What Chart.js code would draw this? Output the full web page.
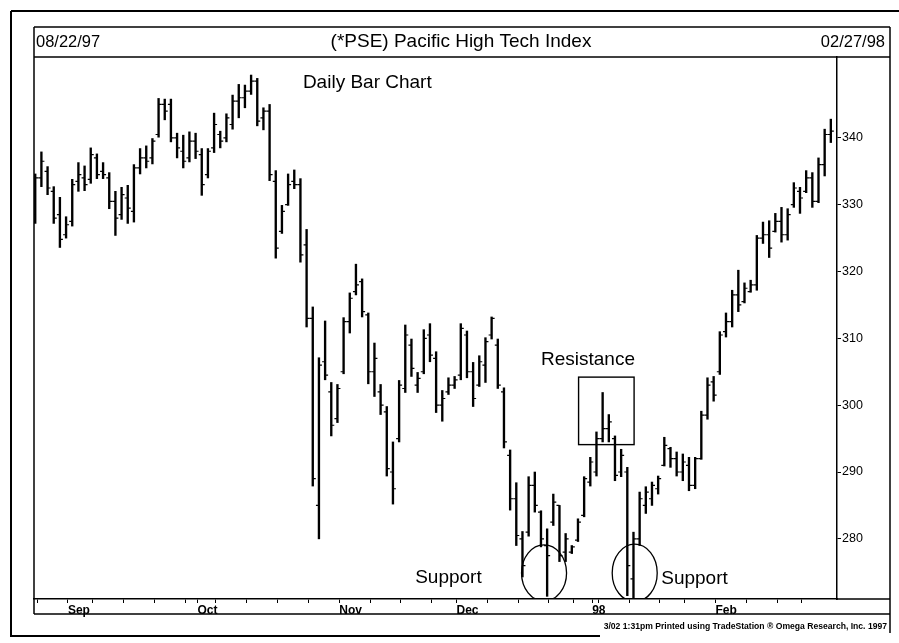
<!DOCTYPE html>
<html><head><meta charset="utf-8">
<script src="https://cdn.jsdelivr.net/npm/chart.js@4.4.1/dist/chart.umd.min.js"></script>
<style>html,body{margin:0;padding:0;background:#fff;overflow:hidden}canvas{display:block}</style>
</head><body>
<canvas id="c" width="899" height="643"></canvas>
<script>
// Daily OHLC, 08/22/97 .. 02/27/98 (130 sessions)
const highs = [334.6,337.9,335.7,332.7,331.1,328.2,333.8,336.3,335.8,338.5,
337.6,336.3,334.8,332.0,332.6,332.9,336.0,338.4,338.8,339.9,
345.9,345.8,345.8,340.7,340.4,340.9,340.7,338.4,338.4,343.7,
341.0,343.6,346.4,348.0,347.9,349.4,348.9,344.5,345.0,335.1,
329.9,334.6,335.2,333.9,326.3,314.7,307.1,312.6,303.4,303.1,
313.1,316.8,321.1,318.9,313.8,309.3,303.1,299.8,294.5,303.7,
312.0,309.9,304.9,311.3,312.2,308.0,302.2,304.1,304.3,312.2,
311.1,306.4,307.4,310.1,313.2,309.9,302.6,293.3,288.4,281.1,
289.3,290.0,284.2,281.5,286.7,285.0,280.8,279.0,283.0,289.3,
292.2,296.0,301.9,298.6,295.4,293.4,290.7,281.0,287.0,287.8,
288.5,289.4,295.2,293.7,293.0,292.7,292.2,292.2,299.1,304.1,
304.3,311.0,313.8,317.2,320.2,318.3,318.7,325.4,327.4,327.6,
328.7,329.6,329.4,333.3,332.6,335.1,334.8,337.0,341.3,342.8];
const lows = [327.2,332.7,331.5,327.2,323.6,325.0,326.8,332.0,332.1,333.2,
333.9,333.9,329.4,325.4,327.8,327.2,327.4,334.6,335.5,336.1,
340.1,342.7,339.4,337.0,335.5,336.4,336.9,331.4,334.0,337.8,
338.5,339.4,341.3,343.0,344.5,346.5,341.8,341.2,333.6,322.0,
325.7,329.9,332.4,321.4,311.7,287.9,280.0,303.8,295.4,297.4,
304.7,310.8,316.5,313.2,303.2,301.3,298.6,289.4,285.2,294.5,
301.9,304.3,301.9,304.7,306.5,298.9,297.6,301.6,302.5,303.8,
304.1,299.8,302.8,303.4,309.9,302.5,293.6,284.3,279.0,274.3,
280.4,284.0,278.8,271.4,282.0,276.6,276.6,277.8,279.6,283.3,
287.9,289.4,294.5,294.5,288.7,289.3,271.5,271.2,279.0,283.8,
285.0,286.7,290.9,290.7,289.4,288.7,287.2,287.5,291.9,297.9,
300.6,304.6,310.2,311.7,314.0,315.3,316.9,317.2,324.2,322.1,
325.9,324.4,324.7,329.6,328.7,331.8,329.6,330.3,334.3,339.3];
const opens = [328.5,334.0,335.0,332.0,328.5,325.5,327.5,333.5,334.0,333.8,
337.0,335.0,334.0,330.5,328.5,331.0,329.0,335.5,337.0,337.0,
340.5,345.0,345.0,340.0,338.0,337.0,339.5,337.5,334.5,338.5,
340.5,340.0,342.0,345.5,346.0,347.0,348.5,343.0,344.0,333.5,
326.0,330.0,333.5,333.0,324.0,313.0,285.0,306.5,302.0,298.0,
305.0,312.5,317.0,318.5,313.5,305.0,302.0,299.0,290.0,295.0,
302.5,309.0,303.0,305.0,310.5,307.0,300.0,302.0,303.0,304.5,
310.5,305.0,303.0,306.0,310.5,309.0,302.0,292.5,286.0,280.0,
281.0,288.0,284.0,279.0,282.5,285.0,278.0,278.0,279.8,283.5,
288.5,290.0,295.0,296.5,295.0,290.0,290.0,274.0,280.0,285.0,
286.0,287.5,291.0,293.5,292.0,290.0,291.0,288.0,292.0,298.5,
303.5,305.0,311.0,312.5,316.5,315.5,317.0,318.0,325.0,325.5,
326.0,327.5,325.5,330.0,332.0,332.0,334.0,330.5,336.0,340.5];
const closes = [334.0,336.5,332.5,328.0,324.8,327.0,333.0,334.5,333.0,337.5,
334.5,334.5,330.5,328.0,331.5,329.5,335.5,337.0,336.5,339.5,
345.0,344.0,340.0,338.5,336.5,339.5,338.0,333.0,338.0,342.0,
339.5,343.0,345.5,346.0,347.0,348.5,342.5,344.0,334.5,323.5,
329.0,333.0,333.0,322.5,313.0,289.0,306.0,304.5,297.0,302.5,
312.5,316.0,318.0,314.0,305.0,307.0,300.0,290.5,287.5,303.0,
310.5,305.5,304.0,310.0,307.5,300.0,301.0,303.0,303.8,311.5,
305.0,301.0,306.5,309.5,313.0,303.0,294.5,286.0,280.5,276.0,
288.0,285.0,280.0,277.5,285.5,277.5,280.0,278.8,282.5,289.0,
291.5,295.0,296.5,297.5,289.5,292.5,276.0,280.0,286.0,287.0,
288.0,289.0,294.0,292.0,290.0,291.5,288.0,292.0,298.5,303.0,
301.5,310.5,312.5,316.5,315.0,317.5,318.0,325.0,325.5,323.5,
327.5,325.5,328.5,332.5,331.0,334.0,330.5,336.0,340.5,341.0];

// session index of each week / month start (x-axis ticks)
const weekStartIdx = [1,6,10,15,20,25,27,30,35,40,45,50,55,60,65,69,74,79,84,88,91,92,97,102,106,111,116,121,125];
const monthStartIdx = [6,27,50,69,91,111];
const monthLabels = ['Sep','Oct','Nov','Dec','98','Feb'];
const yTickValues = [280,290,300,310,320,330,340];

const headLeft = '08/22/97';
const headTitle = '(*PSE) Pacific High Tech Index';
const headRight = '02/27/98';
const footerText = '3/02 1:31pm Printed using TradeStation \u00AE Omega Research, Inc. 1997';

// annotations, in data coordinates (session index, price)
const notes = [
  {text:'Daily Bar Chart', x:43.4, y:347.5},
  {text:'Resistance', x:82.0, y:306.0},
  {text:'Support', x:61.6, y:273.4},
  {text:'Support', x:101.5, y:273.3}
];
const resistBox = {x0:88.1, x1:97.1, y0:294.1, y1:304.2};
const supportRings = [{x:82.5, y:274.9, rx:3.65, ry:4.2},{x:97.2, y:274.9, rx:3.65, ry:4.3}];

const FONT = '"Liberation Sans", Arial, sans-serif';
const TICK_SHIFT = 0.7;

const decor = {
  id: 'decor',
  afterDatasetsDraw(chart) {
    const {ctx, scales:{x, y}, chartArea:a} = chart;
    ctx.save();
    ctx.beginPath(); ctx.rect(a.left, a.top, a.right-a.left, a.bottom-a.top); ctx.clip();
    ctx.strokeStyle = '#000'; ctx.lineWidth = 1.2;
    ctx.beginPath();
    for (let i = 0; i < highs.length; i++) {
      const px = x.getPixelForValue(i);
      const yo = y.getPixelForValue(opens[i]), yc = y.getPixelForValue(closes[i]);
      ctx.moveTo(px-3, yo); ctx.lineTo(px, yo);
      ctx.moveTo(px, yc); ctx.lineTo(px+3, yc);
    }
    ctx.stroke();
    // support rings
    ctx.lineWidth = 1.3;
    supportRings.forEach(r => {
      const cx = x.getPixelForValue(r.x), cy = y.getPixelForValue(r.y);
      const rx = x.getPixelForValue(r.x + r.rx) - cx;
      const ry = y.getPixelForValue(r.y - r.ry) - cy;
      ctx.beginPath(); ctx.ellipse(cx, cy, rx, ry, 0, 0, Math.PI*2); ctx.stroke();
    });
    // resistance box
    ctx.lineWidth = 1.4;
    const bx0 = x.getPixelForValue(resistBox.x0), bx1 = x.getPixelForValue(resistBox.x1);
    const by0 = y.getPixelForValue(resistBox.y1), by1 = y.getPixelForValue(resistBox.y0);
    ctx.strokeRect(bx0, by0, bx1-bx0, by1-by0);
    // notes
    ctx.fillStyle = '#000';
    ctx.font = '19px ' + FONT;
    ctx.textBaseline = 'alphabetic'; ctx.textAlign = 'left';
    notes.forEach(n => ctx.fillText(n.text, x.getPixelForValue(n.x), y.getPixelForValue(n.y)));
    ctx.restore();
  },
  afterDraw(chart) {
    const {ctx, chartArea:a} = chart;
    const W = chart.width;
    ctx.save();
    ctx.strokeStyle = '#000';
    const line = (x0,y0,x1,y1,w) => { ctx.lineWidth = w; ctx.beginPath(); ctx.moveTo(x0,y0); ctx.lineTo(x1,y1); ctx.stroke(); };
    const boxL = a.left, boxR = W - 9, boxT = a.top - 30, band = a.bottom + 15;
    // outer frame
    line(11, 11, W, 11, 2);
    line(11, 11, 11, 636, 2);
    line(10, 636, 600, 636, 2);
    // inner frame
    line(boxL, boxT, boxR, boxT, 1.5);
    line(boxL, a.top, boxR, a.top, 1.5);
    line(boxL, boxT, boxL, band, 1.5);
    line(boxR, boxT, boxR, 633, 1.5);
    line(boxL, band, boxR, band, 1.5);
    line(a.right, a.bottom, boxR, a.bottom, 1.5);
    // header texts
    ctx.fillStyle = '#000';
    ctx.textBaseline = 'alphabetic';
    ctx.font = '16.5px ' + FONT;
    ctx.textAlign = 'left'; ctx.fillText(headLeft, boxL + 2, boxT + 20);
    ctx.textAlign = 'right'; ctx.fillText(headRight, boxR - 5, boxT + 20);
    ctx.font = '19px ' + FONT;
    ctx.textAlign = 'center'; ctx.fillText(headTitle, 461, boxT + 20);
    // footer
    ctx.font = 'bold 8.6px ' + FONT;
    ctx.textAlign = 'right'; ctx.fillText(footerText, boxR - 3, 629);
    ctx.restore();
  }
};

new Chart(document.getElementById('c'), {
  type: 'bar',
  data: {
    datasets: [{
      data: highs.map((h, i) => ({x: i, y: [lows[i], h]})),
      backgroundColor: '#000',
      borderWidth: 0,
      barThickness: 1.7
    }]
  },
  options: {
    responsive: false,
    animation: false,
    devicePixelRatio: 1,
    layout: {padding: {left: 34, top: 57, right: 10, bottom: 0}},
    plugins: {legend: {display: false}, tooltip: {enabled: false}, title: {display: false}},
    scales: {
      x: {
        type: 'linear', position: 'bottom', min: -0.2, max: 130, offset: false,
        grid: {display: true, drawOnChartArea: false, drawTicks: true, tickLength: 4, color: '#000', lineWidth: 1, offset: false},
        border: {display: true, color: '#000', width: 1.5},
        afterBuildTicks: s => { s.ticks = weekStartIdx.map(v => ({value: v - TICK_SHIFT})); },
        afterFit: s => { s.height = 44; },
        ticks: {
          autoSkip: false, maxRotation: 0, minRotation: 0, align: 'start', padding: 0,
          color: '#000', font: {family: FONT, size: 12, weight: 'bold'},
          callback: v => {
            const k = monthStartIdx.findIndex(m => Math.abs(m - TICK_SHIFT - v) < 0.01);
            return k >= 0 ? monthLabels[k] : '';
          }
        }
      },
      y: {
        type: 'linear', position: 'right', min: 271.0, max: 352.1,
        grid: {display: true, drawOnChartArea: false, drawTicks: true, tickLength: 4, color: '#000', lineWidth: 1},
        border: {display: true, color: '#000', width: 1.5},
        afterBuildTicks: s => { s.ticks = yTickValues.map(v => ({value: v})); },
        afterFit: s => { s.width = 52; },
        ticks: {color: '#000', padding: 1, font: {family: FONT, size: 12.5}, callback: v => String(v)}
      }
    }
  },
  plugins: [decor]
});
</script>
</body></html>
